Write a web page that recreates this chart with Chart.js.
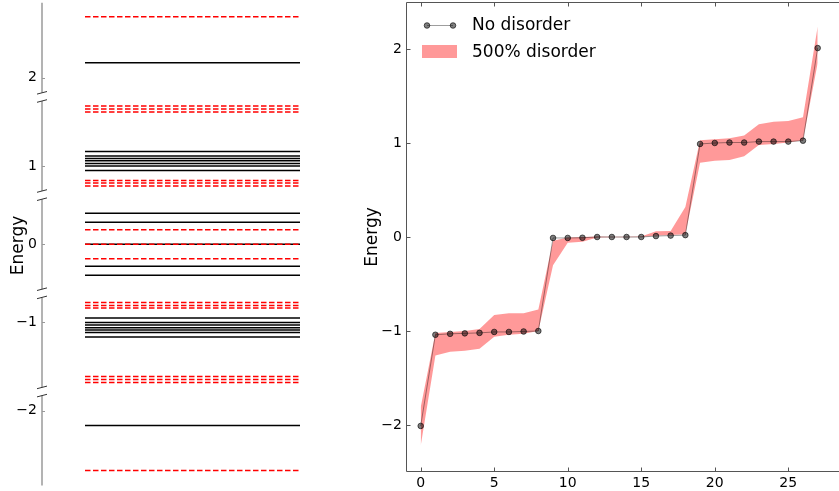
<!DOCTYPE html>
<html>
<head>
<meta charset="utf-8">
<script src="https://cdn.jsdelivr.net/npm/chart.js@4/dist/chart.umd.min.js"></script>
<style>
  html, body { margin: 0; padding: 0; background: #fff; overflow: hidden; }
  #levels { position: absolute; left: 0; top: 0; }
  #spectrum { position: absolute; left: 350px; top: 0; }
</style>
</head>
<body>
<canvas id="levels" width="300" height="491"></canvas>
<canvas id="spectrum" width="489" height="491"></canvas>
<script>
// ---------- energy level diagram ----------
const levelTicks = [2, 1, 0, -1, -2];
const solidLevels = [2.15, 1.145, 1.1, 1.076, 1.053, 1.026, 1.0, 0.955, 0.31, 0.22, 0,
                     -0.22, -0.31, -0.955, -1.0, -1.026, -1.053, -1.076, -1.1, -1.145, -2.15];
const dashedLevels = [2.61, 1.6, 1.57, 1.54, 0.855, 0.83, 0.8, 0.145, 0,
                      -0.145, -0.8, -0.83, -0.855, -1.54, -1.57, -1.6, -2.6];

// ---------- spectrum by state index ----------
const stateIndex = [0, 1, 2, 3, 4, 5, 6, 7, 8, 9, 10, 11, 12, 13, 14, 15, 16, 17, 18, 19, 20, 21, 22, 23, 24, 25, 26, 27];
const noDisorder = [-2.01, -1.04, -1.03, -1.025, -1.02, -1.01, -1.01, -1.005, -1.0,
                    -0.01, -0.01, -0.008, 0.0, 0.0, 0.0, 0.0, 0.01, 0.015, 0.02,
                    0.99, 1.0, 1.005, 1.005, 1.015, 1.015, 1.015, 1.025, 2.01];
const disorderLow = [-2.22, -1.26, -1.22, -1.21, -1.19, -1.06, -1.04, -1.03, -1.0,
                     -0.30, -0.06, -0.05, -0.005, -0.003, -0.003, 0.0, 0.015, 0.02, 0.03,
                     0.79, 0.81, 0.82, 0.86, 0.98, 0.99, 1.005, 1.03, 1.85];
const disorderHigh = [-1.81, -1.02, -1.01, -1.0, -0.98, -0.83, -0.81, -0.81, -0.77,
                      -0.04, -0.005, 0.0, 0.005, 0.003, 0.003, 0.005, 0.06, 0.065, 0.32,
                      1.03, 1.04, 1.05, 1.08, 1.20, 1.225, 1.235, 1.275, 2.24];
const xTickValues = [0, 5, 10, 15, 20, 25];
const yTickValues = [-2, -1, 0, 1, 2];

Chart.defaults.font.family = '"DejaVu Sans", sans-serif';
Chart.defaults.color = '#000';

const fmt = v => (v < 0 ? '\u2212' + Math.abs(v) : String(v));
const noEdgePadding = s => { s.paddingTop = 0; s.paddingBottom = 0; s.paddingLeft = 0; s.paddingRight = 0; };

// Visible energy window of each piece of the broken axis, top to bottom.
const windows = [[1.85, 2.75], [0.75, 1.65], [-0.45, 0.45], [-1.65, -0.75], [-2.75, -1.85]];
const padAbove = 0.028, padBelow = 0.054;

function windowOf(e) {
  return windows.findIndex(([lo, hi]) => e >= lo && e <= hi);
}

const levelDatasets = [];
dashedLevels.forEach(e => levelDatasets.push({
  data: [{ x: 0, y: e }, { x: 5, y: e }],
  yAxisID: 'w' + windowOf(e),
  borderColor: '#ff0000', borderWidth: 1.5, borderDash: [5.5, 2.5],
  pointRadius: 0, order: 0
}));
solidLevels.forEach(e => levelDatasets.push({
  data: [{ x: 0, y: e }, { x: 5, y: e }],
  yAxisID: 'w' + windowOf(e),
  borderColor: '#000000', borderWidth: 1.5,
  pointRadius: 0, order: 1
}));

const levelScales = { x: { type: 'linear', display: false, min: -1, max: 5 } };
// the layout stacks left axes last-defined-first, so define the lowest window first
for (let i = windows.length - 1; i >= 0; i--) {
  const [lo, hi] = windows[i];
  levelScales['w' + i] = {
    type: 'linear', axis: 'y', position: 'left', stack: 'energy', stackWeight: 1,
    min: lo - padBelow, max: hi + padAbove,
    grid: { display: false, drawTicks: false },
    border: { display: false },
    afterBuildTicks: s => { s.ticks = [{ value: levelTicks[i] }]; },
    afterFit: s => { s.width = 42; noEdgePadding(s); },
    ticks: { padding: 5, font: { size: 14 }, color: '#000', callback: v => fmt(v) },
    title: i === 2
      ? { display: true, text: 'Energy', font: { size: 17 }, color: '#000', padding: { top: 8, bottom: 0 } }
      : { display: false }
  };
}

const brokenSpine = {
  id: 'brokenSpine',
  afterDraw(chart) {
    const ctx = chart.ctx;
    const x = chart.chartArea.left;
    const seg = (x0, y0, x1, y1) => { ctx.beginPath(); ctx.moveTo(x0, y0); ctx.lineTo(x1, y1); ctx.stroke(); };
    ctx.save();
    windows.forEach(([lo, hi], i) => {
      const s = chart.scales['w' + i];
      const yTop = s.getPixelForValue(hi);
      const yBot = s.getPixelForValue(lo);
      ctx.strokeStyle = '#b3b3b3';
      ctx.lineWidth = 2;
      seg(x, yTop, x, yBot);
      const ty = Math.round(s.getPixelForValue(levelTicks[i])) + 0.5;
      ctx.lineWidth = 1;
      ctx.strokeStyle = '#999';
      seg(x, ty, x + 3, ty);
      ctx.strokeStyle = '#333';
      if (i > 0) seg(x - 5, yTop + 1.3, x + 5, yTop - 1.3);
      if (i < windows.length - 1) seg(x - 5, yBot + 1.3, x + 5, yBot - 1.3);
    });
    ctx.restore();
  }
};

new Chart(document.getElementById('levels'), {
  type: 'line',
  data: { datasets: levelDatasets },
  options: {
    responsive: false, animation: false, devicePixelRatio: 1, events: [],
    layout: { padding: 0, autoPadding: false },
    plugins: { legend: { display: false }, tooltip: { enabled: false } },
    scales: levelScales
  },
  plugins: [brokenSpine]
});

// ---------- spectrum ----------
const pts = arr => stateIndex.map((x, i) => ({ x, y: arr[i] }));

const frame = {
  id: 'frame',
  afterDraw(chart) {
    const { ctx, chartArea: a, scales: { x: xs, y: ys } } = chart;
    const seg = (x0, y0, x1, y1) => { ctx.beginPath(); ctx.moveTo(x0, y0); ctx.lineTo(x1, y1); ctx.stroke(); };
    ctx.save();
    ctx.strokeStyle = '#555';
    ctx.lineWidth = 1;
    const L = Math.floor(a.left) + 0.5, T = Math.floor(a.top) + 0.5, B = Math.floor(a.bottom) - 0.5;
    seg(L, T, a.right + 1, T);
    seg(L, T, L, B);
    seg(L, B, a.right + 1, B);
    xTickValues.forEach(v => {
      const px = Math.round(xs.getPixelForValue(v)) + 0.5;
      seg(px, B, px, B - 4);
      seg(px, T, px, T + 4);
    });
    yTickValues.forEach(v => {
      const py = Math.round(ys.getPixelForValue(v)) + 0.5;
      seg(L, py, L + 4, py);
    });

    // legend
    const ds = chart.data.datasets;
    const lx = a.left + 21, ly = a.top + 23.5;
    ctx.strokeStyle = ds[0].borderColor;
    seg(lx, ly, lx + 26, ly);
    [lx, lx + 26].forEach(px => {
      ctx.beginPath();
      ctx.arc(px, ly, 2.8, 0, Math.PI * 2);
      ctx.fillStyle = ds[0].pointBackgroundColor;
      ctx.fill();
      ctx.strokeStyle = ds[0].pointBorderColor;
      ctx.stroke();
    });
    ctx.fillStyle = ds[2].backgroundColor;
    ctx.fillRect(a.left + 16, a.top + 43, 35, 13);
    ctx.fillStyle = '#000';
    ctx.font = '17px "DejaVu Sans", sans-serif';
    ctx.textBaseline = 'middle';
    ctx.textAlign = 'left';
    ctx.fillText(ds[0].label, a.left + 66, a.top + 24);
    ctx.fillText(ds[2].label, a.left + 66, a.top + 50.5);
    ctx.restore();
  }
};

new Chart(document.getElementById('spectrum'), {
  type: 'line',
  data: {
    datasets: [
      {
        label: 'No disorder', data: pts(noDisorder), order: 0,
        borderColor: 'rgba(0,0,0,0.38)', borderWidth: 1,
        pointRadius: 2.8, pointBackgroundColor: 'rgba(0,0,0,0.5)',
        pointBorderColor: 'rgba(0,0,0,0.62)', pointBorderWidth: 1
      },
      {
        label: '500% disorder upper', data: pts(disorderHigh), order: 1,
        borderColor: 'rgba(0,0,0,0)', borderWidth: 0, pointRadius: 0, fill: false
      },
      {
        label: '500% disorder', data: pts(disorderLow), order: 1,
        borderColor: 'rgba(0,0,0,0)', borderWidth: 0, pointRadius: 0,
        backgroundColor: 'rgba(255,0,0,0.4)', fill: '-1'
      }
    ]
  },
  options: {
    responsive: false, animation: false, devicePixelRatio: 1, events: [],
    layout: { padding: { top: 2, right: 0, bottom: 0, left: 0 }, autoPadding: false },
    plugins: { legend: { display: false }, tooltip: { enabled: false } },
    scales: {
      x: {
        type: 'linear', min: -1, max: 28.45,
        grid: { display: false, drawTicks: false }, border: { display: false },
        afterBuildTicks: s => { s.ticks = xTickValues.map(v => ({ value: v })); },
        afterFit: s => { s.height = 19; noEdgePadding(s); },
        ticks: { padding: 3, font: { size: 14 }, color: '#000', callback: v => fmt(v) }
      },
      y: {
        type: 'linear', min: -2.5, max: 2.5,
        grid: { display: false, drawTicks: false }, border: { display: false },
        afterBuildTicks: s => { s.ticks = yTickValues.map(v => ({ value: v })); },
        afterFit: s => { s.width = 56; noEdgePadding(s); },
        ticks: { padding: 4, font: { size: 14 }, color: '#000', callback: v => fmt(v) },
        title: { display: true, text: 'Energy', font: { size: 17 }, color: '#000', padding: { top: 12, bottom: 0 } }
      }
    }
  },
  plugins: [frame]
});
</script>
</body>
</html>
